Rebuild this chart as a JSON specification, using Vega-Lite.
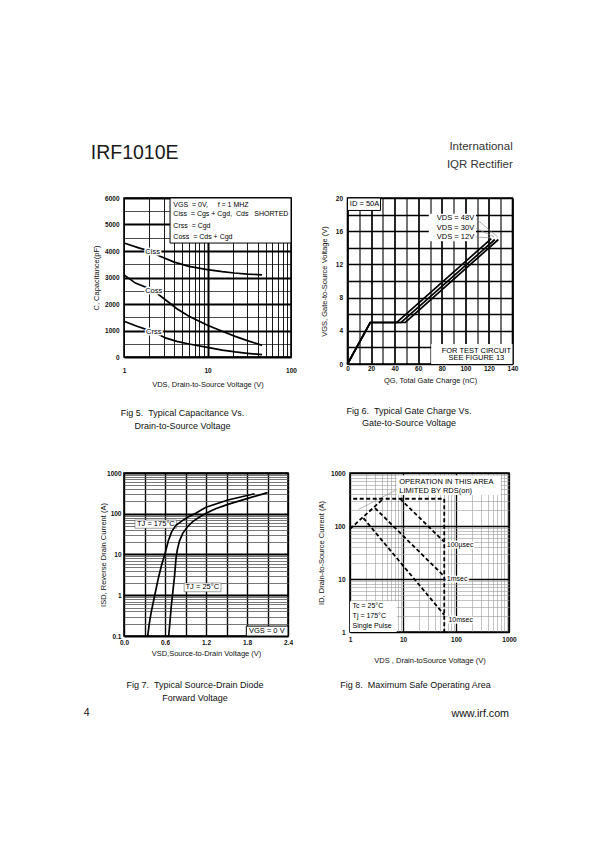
{
  "$schema": "https://vega.github.io/schema/vega-lite/v6.json",
  "background": "white",
  "padding": {"left": 83, "top": 141, "right": 2, "bottom": 2},
  "config": {
    "font": "Liberation Sans",
    "view": {"stroke": "black", "strokeWidth": 1.6},
    "axis": {"ticks": false, "domain": false, "grid": true, "gridColor": "#000", "gridOpacity": 1, "labelFont": "Liberation Sans", "labelFontSize": 6.5, "labelFontWeight": "bold", "labelColor": "#111", "labelFlush": false, "labelOverlap": false, "titleFont": "Liberation Sans", "titleFontSize": 7.5, "titleFontWeight": "normal", "titleColor": "#111"},
    "title": {"font": "Liberation Sans", "fontWeight": "normal", "color": "#111", "fontSize": 9},
    "text": {"font": "Liberation Sans", "fontSize": 7, "color": "black"}
  },
  "spacing": 37,
  "vconcat": [
    {
      "spacing": 20.5,
      "hconcat": [
        {
          "title": {"text": "IRF1010E", "anchor": "start", "orient": "top", "fontSize": 19.5, "offset": 31, "dx": -1, "color": "#1a1a1a"},
          "vconcat": [
            {
              "width": 167, "height": 159,
              "title": {"text": ["Fig 5.\u00a0\u00a0Typical Capacitance Vs.", "Drain-to-Source Voltage"], "orient": "bottom", "anchor": "middle", "frame": "group", "dx": -25, "lineHeight": 12.5, "offset": 21},
              "encoding": {
                "x": {"field": "x", "type": "quantitative", "scale": {"type": "log", "domain": [1, 100], "nice": false},
                  "axis": {"title": "VDS, Drain-to-Source Voltage (V)", "values": [1,2,3,4,5,6,7,8,9,10,20,30,40,50,60,70,80,90,100], "labelExpr": "(datum.value==1||datum.value==10||datum.value==100) ? ''+datum.value : ''", "gridWidth": {"condition": {"test": "datum.value==10", "value": 2}, "value": 0.9}, "labelPadding": 10, "titlePadding": 7}},
                "y": {"field": "y", "type": "quantitative", "scale": {"domain": [0, 6000], "nice": false},
                  "axis": {"title": "C, Capacitance(pF)", "values": [0,500,1000,1500,2000,2500,3000,3500,4000,4500,5000,5500,6000], "labelExpr": "datum.value % 1000 == 0 ? ''+datum.value : ''", "gridWidth": {"condition": {"test": "datum.value % 1000 == 0", "value": 1.8}, "value": 0.7}, "labelPadding": 5, "titlePadding": 4}}
              },
              "layer": [
                {"data": {"values": [{"x": 3.56, "x2": 100, "y": 4300, "y2": 6000}]}, "mark": {"type": "rect", "fill": "white", "stroke": "black", "strokeWidth": 1}, "encoding": {"x2": {"field": "x2"}, "y2": {"field": "y2"}}},
                {"data": {"values": [
                  {"s": "Ciss", "x": 1, "y": 4300}, {"s": "Ciss", "x": 1.5, "y": 4120}, {"s": "Ciss", "x": 2.2, "y": 3960}, {"s": "Ciss", "x": 2.7, "y": 3800}, {"s": "Ciss", "x": 4, "y": 3580}, {"s": "Ciss", "x": 6, "y": 3420}, {"s": "Ciss", "x": 10, "y": 3300}, {"s": "Ciss", "x": 15, "y": 3220}, {"s": "Ciss", "x": 21, "y": 3170}, {"s": "Ciss", "x": 30, "y": 3130}, {"s": "Ciss", "x": 45, "y": 3100},
                  {"s": "Coss", "x": 1, "y": 3100}, {"s": "Coss", "x": 1.37, "y": 2790}, {"s": "Coss", "x": 1.8, "y": 2640}, {"s": "Coss", "x": 2.27, "y": 2500}, {"s": "Coss", "x": 3.13, "y": 2160}, {"s": "Coss", "x": 4.3, "y": 1820}, {"s": "Coss", "x": 6, "y": 1540}, {"s": "Coss", "x": 10, "y": 1200}, {"s": "Coss", "x": 15, "y": 970}, {"s": "Coss", "x": 21.5, "y": 780}, {"s": "Coss", "x": 30, "y": 620}, {"s": "Coss", "x": 45, "y": 440},
                  {"s": "Crss", "x": 1, "y": 1350}, {"s": "Crss", "x": 1.43, "y": 1160}, {"s": "Crss", "x": 2.27, "y": 950}, {"s": "Crss", "x": 3.13, "y": 720}, {"s": "Crss", "x": 4.3, "y": 590}, {"s": "Crss", "x": 6, "y": 490}, {"s": "Crss", "x": 10, "y": 365}, {"s": "Crss", "x": 15, "y": 260}, {"s": "Crss", "x": 21.5, "y": 190}, {"s": "Crss", "x": 30, "y": 140}, {"s": "Crss", "x": 45, "y": 90}
                ]}, "mark": {"type": "line", "color": "black", "strokeWidth": 1.7}, "encoding": {"detail": {"field": "s"}}},
                {"data": {"values": [{"x": 2.2, "y": 3960, "t": "Ciss"}, {"x": 2.27, "y": 2500, "t": "Coss"}, {"x": 2.27, "y": 950, "t": "Crss"}]}, "mark": {"type": "text", "fill": "white", "stroke": "white", "strokeWidth": 3, "fontSize": 7.5}, "encoding": {"text": {"field": "t"}}},
                {"data": {"values": [{"x": 2.2, "y": 3960, "t": "Ciss"}, {"x": 2.27, "y": 2500, "t": "Coss"}, {"x": 2.27, "y": 950, "t": "Crss"}]}, "mark": {"type": "text", "fill": "black", "fontSize": 7.5}, "encoding": {"text": {"field": "t"}}},
                {"data": {"values": [
                  {"x": 3.9, "y": 5747, "t": "VGS\u00a0\u00a0= 0V,\u00a0\u00a0\u00a0\u00a0\u00a0f = 1 MHZ"},
                  {"x": 3.9, "y": 5408, "t": "Ciss\u00a0\u00a0= Cgs + Cgd,\u00a0\u00a0Cds\u00a0\u00a0\u00a0SHORTED"},
                  {"x": 3.9, "y": 4932, "t": "Crss\u00a0\u00a0= Cgd"},
                  {"x": 3.9, "y": 4528, "t": "Coss\u00a0\u00a0= Cds + Cgd"}
                ]}, "mark": {"type": "text", "align": "left", "fontSize": 7}, "encoding": {"text": {"field": "t"}}}
              ]
            }
          ]
        },
        {
          "title": {"text": ["International", "IQR Rectifier"], "anchor": "end", "orient": "top", "fontSize": 11.5, "lineHeight": 17.5, "offset": 24, "dx": -6, "color": "#333"},
          "vconcat": [
            {
              "width": 165, "height": 166,
              "title": {"text": ["Fig 6.\u00a0\u00a0Typical Gate Charge Vs.", "Gate-to-Source Voltage"], "orient": "bottom", "anchor": "middle", "frame": "group", "dx": -21, "lineHeight": 12.5, "offset": 23},
              "encoding": {
                "x": {"field": "x", "type": "quantitative", "scale": {"domain": [0, 140], "nice": false},
                  "axis": {"title": "QG, Total Gate Charge (nC)", "values": [0,10,20,30,40,50,60,70,80,90,100,110,120,130,140], "labelExpr": "datum.value % 20 == 0 ? ''+datum.value : ''", "gridWidth": {"condition": {"test": "datum.value % 20 == 0", "value": 1.7}, "value": 1.1}, "labelPadding": 1.5, "titlePadding": 4}},
                "y": {"field": "y", "type": "quantitative", "scale": {"domain": [0, 20], "nice": false},
                  "axis": {"title": "VGS, Gate-to-Source Voltage (V)", "values": [0,2,4,6,8,10,12,14,16,18,20], "labelExpr": "datum.value % 4 == 0 ? ''+datum.value : ''", "gridWidth": 1.4, "labelPadding": 5, "titlePadding": 7}}
              },
              "layer": [
                {"data": {"values": [{"x": 0, "x2": 28, "y": 18.5, "y2": 20}]}, "mark": {"type": "rect", "fill": "white", "stroke": "black", "strokeWidth": 1}, "encoding": {"x2": {"field": "x2"}, "y2": {"field": "y2"}}},
                {"data": {"values": [{"x": 71, "x2": 140, "y": 0, "y2": 2.4}, {"x": 69, "x2": 109, "y": 14.8, "y2": 18.1}]}, "mark": {"type": "rect", "fill": "white"}, "encoding": {"x2": {"field": "x2"}, "y2": {"field": "y2"}}},
                {"data": {"values": [{"x": 109, "y": 17.5, "x2": 127.5, "y2": 15.3}, {"x": 109, "y": 16.35, "x2": 124.5, "y2": 15.3}, {"x": 109, "y": 15.3, "x2": 121.5, "y2": 15.2}]}, "mark": {"type": "rule", "color": "#8a8a8a", "strokeWidth": 0.7}, "encoding": {"x2": {"field": "x2"}, "y2": {"field": "y2"}}},
                {"data": {"values": [
                  {"s": "12V", "x": 0, "y": 0}, {"s": "12V", "x": 19.3, "y": 5}, {"s": "12V", "x": 41.8, "y": 5}, {"s": "12V", "x": 122, "y": 15.1},
                  {"s": "30V", "x": 0, "y": 0}, {"s": "30V", "x": 19.3, "y": 5}, {"s": "30V", "x": 45.5, "y": 5}, {"s": "30V", "x": 125, "y": 15},
                  {"s": "48V", "x": 0, "y": 0}, {"s": "48V", "x": 19.3, "y": 5}, {"s": "48V", "x": 49, "y": 5}, {"s": "48V", "x": 128, "y": 15}
                ]}, "mark": {"type": "line", "color": "black", "strokeWidth": 1.7}, "encoding": {"detail": {"field": "s"}}},
                {"data": {"values": [{"x": 107.5, "y": 17.55, "t": "VDS = 48V"}, {"x": 107.5, "y": 16.4, "t": "VDS = 30V"}, {"x": 107.5, "y": 15.3, "t": "VDS = 12V"}]}, "mark": {"type": "text", "align": "right", "fontSize": 7.5}, "encoding": {"text": {"field": "t"}}},
                {"data": {"values": [{"x": 2, "y": 19.25, "t": "ID = 50A"}]}, "mark": {"type": "text", "align": "left", "fontSize": 7.5}, "encoding": {"text": {"field": "t"}}},
                {"data": {"values": [{"x": 109.3, "y": 1.6, "t": "FOR TEST CIRCUIT"}, {"x": 109.3, "y": 0.68, "t": "SEE FIGURE 13"}]}, "mark": {"type": "text", "align": "center", "fontSize": 7.5}, "encoding": {"text": {"field": "t"}}}
              ]
            }
          ]
        }
      ]
    },
    {
      "spacing": 22,
      "hconcat": [
        {
          "title": {"text": "4", "anchor": "start", "orient": "bottom", "fontSize": 10.5, "offset": 5, "dx": -15},
          "vconcat": [
            {
              "width": 164, "height": 163,
              "title": {"text": ["Fig 7.\u00a0\u00a0Typical Source-Drain Diode", "Forward Voltage"], "orient": "bottom", "anchor": "middle", "frame": "group", "dx": -11, "lineHeight": 12.5, "offset": 24},
              "encoding": {
                "x": {"field": "x", "type": "quantitative", "scale": {"domain": [0, 2.4], "nice": false},
                  "axis": {"title": "VSD,Source-to-Drain Voltage (V)", "values": [0,0.3,0.6,0.9,1.2,1.5,1.8,2.1,2.4], "labelExpr": "indexof([0,0.6,1.2,1.8,2.4], datum.value) >= 0 ? format(datum.value, '.1f') : ''", "gridWidth": 1.4, "labelPadding": 3, "titlePadding": 4}},
                "y": {"field": "y", "type": "quantitative", "scale": {"type": "log", "domain": [0.1, 1000], "nice": false},
                  "axis": {"title": "ISD, Reverse Drain Current (A)", "values": [0.1,0.2,0.3,0.4,0.5,0.6,0.7,0.8,0.9,1,2,3,4,5,6,7,8,9,10,20,30,40,50,60,70,80,90,100,200,300,400,500,600,700,800,900,1000], "labelExpr": "indexof([0.1,1,10,100,1000], datum.value) >= 0 ? ''+datum.value : ''", "gridColor": {"condition": {"test": "indexof([0.1,1,10,100,1000], datum.value) >= 0", "value": "#000"}, "value": "#555"}, "gridWidth": {"condition": {"test": "indexof([0.1,1,10,100,1000], datum.value) >= 0", "value": 1.8}, "value": 0.8}, "labelPadding": 3, "titlePadding": -1}}
              },
              "layer": [
                {"data": {"values": [{"x": 0.16, "x2": 0.77, "y": 44, "y2": 70}, {"x": 0.88, "x2": 1.42, "y": 1.22, "y2": 2.0}]}, "mark": {"type": "rect", "fill": "white", "stroke": "#444", "strokeWidth": 0.5}, "encoding": {"x2": {"field": "x2"}, "y2": {"field": "y2"}}},
                {"data": {"values": [{"x": 1.79, "x2": 2.4, "y": 0.1, "y2": 0.175}]}, "mark": {"type": "rect", "fill": "white", "stroke": "black", "strokeWidth": 1}, "encoding": {"x2": {"field": "x2"}, "y2": {"field": "y2"}}},
                {"data": {"values": [
                  {"s": "175", "x": 0.347, "y": 0.1}, {"s": "175", "x": 0.37, "y": 0.2}, {"s": "175", "x": 0.4, "y": 0.4}, {"s": "175", "x": 0.45, "y": 1}, {"s": "175", "x": 0.5, "y": 2.5}, {"s": "175", "x": 0.55, "y": 5.5}, {"s": "175", "x": 0.6, "y": 10.5}, {"s": "175", "x": 0.65, "y": 22}, {"s": "175", "x": 0.7, "y": 37}, {"s": "175", "x": 0.76, "y": 52}, {"s": "175", "x": 0.85, "y": 67}, {"s": "175", "x": 0.93, "y": 82}, {"s": "175", "x": 1.05, "y": 103}, {"s": "175", "x": 1.2, "y": 145}, {"s": "175", "x": 1.52, "y": 217}, {"s": "175", "x": 1.91, "y": 310},
                  {"s": "25", "x": 0.654, "y": 0.1}, {"s": "25", "x": 0.67, "y": 0.2}, {"s": "25", "x": 0.69, "y": 0.5}, {"s": "25", "x": 0.712, "y": 1.1}, {"s": "25", "x": 0.74, "y": 3}, {"s": "25", "x": 0.761, "y": 8}, {"s": "25", "x": 0.78, "y": 13}, {"s": "25", "x": 0.81, "y": 21}, {"s": "25", "x": 0.859, "y": 33}, {"s": "25", "x": 0.93, "y": 48}, {"s": "25", "x": 1.005, "y": 64}, {"s": "25", "x": 1.1, "y": 82}, {"s": "25", "x": 1.2, "y": 103}, {"s": "25", "x": 1.35, "y": 135}, {"s": "25", "x": 1.52, "y": 170}, {"s": "25", "x": 1.86, "y": 252}, {"s": "25", "x": 2.1, "y": 330}
                ]}, "mark": {"type": "line", "color": "black", "strokeWidth": 1.7}, "encoding": {"detail": {"field": "s"}}},
                {"data": {"values": [{"x": 0.19, "y": 56, "t": "TJ = 175°C"}, {"x": 0.9, "y": 1.58, "t": "TJ = 25°C"}]}, "mark": {"type": "text", "align": "left", "fontSize": 7.5}, "encoding": {"text": {"field": "t"}}},
                {"data": {"values": [{"x": 2.09, "y": 0.133, "t": "VGS = 0 V"}]}, "mark": {"type": "text", "align": "center", "fontSize": 7.5}, "encoding": {"text": {"field": "t"}}}
              ]
            }
          ]
        },
        {
          "title": {"text": "www.irf.com", "anchor": "end", "orient": "bottom", "fontSize": 10.7, "offset": 18, "dx": -8},
          "vconcat": [
            {
              "width": 159, "height": 159,
              "title": {"text": "Fig 8.\u00a0\u00a0Maximum Safe Operating Area", "orient": "bottom", "anchor": "middle", "frame": "group", "dx": -14, "offset": 17},
              "encoding": {
                "x": {"field": "x", "type": "quantitative", "scale": {"type": "log", "domain": [1, 1000], "nice": false},
                  "axis": {"title": "VDS , Drain-toSource Voltage (V)", "values": [1,2,3,4,5,6,7,8,9,10,20,30,40,50,60,70,80,90,100,200,300,400,500,600,700,800,900,1000], "labelExpr": "indexof([1,10,100,1000], datum.value) >= 0 ? ''+datum.value : ''", "gridColor": {"condition": {"test": "indexof([1,10,100,1000], datum.value) >= 0", "value": "#000"}, "value": "#9a9a9a"}, "gridWidth": {"condition": {"test": "indexof([1,10,100,1000], datum.value) >= 0", "value": 1.3}, "value": 0.6}, "labelPadding": 4, "titlePadding": 14}},
                "y": {"field": "y", "type": "quantitative", "scale": {"type": "log", "domain": [1, 1000], "nice": false},
                  "axis": {"title": "ID, Drain-to-Source Current (A)", "values": [1,2,3,4,5,6,7,8,9,10,20,30,40,50,60,70,80,90,100,200,300,400,500,600,700,800,900,1000], "labelExpr": "indexof([1,10,100,1000], datum.value) >= 0 ? ''+datum.value : ''", "gridColor": {"condition": {"test": "indexof([1,10,100,1000], datum.value) >= 0", "value": "#000"}, "value": "#9a9a9a"}, "gridWidth": {"condition": {"test": "indexof([1,10,100,1000], datum.value) >= 0", "value": 1.3}, "value": 0.6}, "labelPadding": 5, "titlePadding": 5}}
              },
              "layer": [
                {"data": {"values": [{"x": 1, "x2": 7.6, "y": 1, "y2": 3.8}, {"x": 7.6, "x2": 700, "y": 385, "y2": 900}]}, "mark": {"type": "rect", "fill": "white"}, "encoding": {"x2": {"field": "x2"}, "y2": {"field": "y2"}}},
                {"data": {"values": [{"x": 7.6, "y": 484, "x2": 1.43, "y2": 204}]}, "mark": {"type": "rule", "color": "#999", "strokeWidth": 0.7}, "encoding": {"x2": {"field": "x2"}, "y2": {"field": "y2"}}},
                {"data": {"values": [
                  {"s": "ilim", "x": 1.15, "y": 327}, {"s": "ilim", "x": 60, "y": 327},
                  {"s": "vlim", "x": 60, "y": 327}, {"s": "vlim", "x": 60, "y": 1},
                  {"s": "rds", "x": 1, "y": 88}, {"s": "rds", "x": 4.25, "y": 327},
                  {"s": "t100", "x": 8.8, "y": 327}, {"s": "t100", "x": 60, "y": 50},
                  {"s": "t1", "x": 2.96, "y": 218}, {"s": "t1", "x": 60, "y": 11.2},
                  {"s": "t10", "x": 1.79, "y": 141}, {"s": "t10", "x": 60, "y": 2.1}
                ]}, "mark": {"type": "line", "color": "black", "strokeWidth": 1.8, "strokeDash": [4, 2.5]}, "encoding": {"detail": {"field": "s"}}},
                {"data": {"values": [{"x": 8.5, "y": 676, "t": "OPERATION IN THIS AREA"}, {"x": 8.5, "y": 452, "t": "LIMITED BY RDS(on)"}]}, "mark": {"type": "text", "align": "left", "fontSize": 7.5}, "encoding": {"text": {"field": "t"}}},
                {"data": {"values": [{"x": 67, "y": 43, "t": "100µsec"}, {"x": 67, "y": 9.8, "t": "1msec"}, {"x": 72, "y": 1.7, "t": "10msec"}]}, "mark": {"type": "text", "align": "left", "fill": "white", "stroke": "white", "strokeWidth": 3, "fontSize": 7}, "encoding": {"text": {"field": "t"}}},
                {"data": {"values": [{"x": 67, "y": 43, "t": "100µsec"}, {"x": 67, "y": 9.8, "t": "1msec"}, {"x": 72, "y": 1.7, "t": "10msec"}]}, "mark": {"type": "text", "align": "left", "fontSize": 7}, "encoding": {"text": {"field": "t"}}},
                {"data": {"values": [{"x": 1.12, "y": 3.05, "t": "Tc = 25°C"}, {"x": 1.12, "y": 1.98, "t": "Tj = 175°C"}, {"x": 1.12, "y": 1.28, "t": "Single Pulse"}]}, "mark": {"type": "text", "align": "left", "fontSize": 7}, "encoding": {"text": {"field": "t"}}}
              ]
            }
          ]
        }
      ]
    }
  ]
}
